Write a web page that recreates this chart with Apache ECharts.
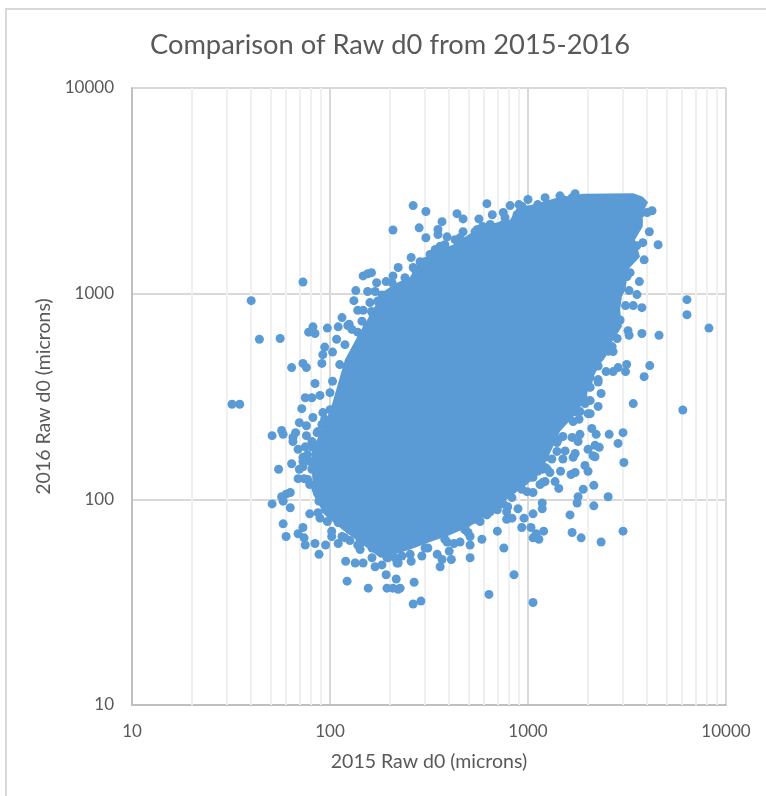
<!DOCTYPE html>
<html>
<head>
<meta charset="utf-8">
<title>Comparison of Raw d0 from 2015-2016</title>
<script src="https://cdn.jsdelivr.net/npm/echarts@6/dist/echarts.min.js"></script>
<style>
  html, body { margin: 0; padding: 0; background: #fff; }
  #chart { width: 766px; height: 796px; }
</style>
</head>
<body>
<div id="chart"></div>
<script>
const titleText = 'Comparison of Raw d0 from 2015-2016'
const xName = '2015 Raw d0 (microns)'
const yName = '2016 Raw d0 (microns)'
const minorGridX = [20, 30, 40, 50, 60, 70, 80, 90, 200, 300, 400, 500, 600, 700, 800, 900, 2000, 3000, 4000, 5000, 6000, 7000, 8000, 9000]

// the middle of the cloud is solid colour, single points can't be read there,
// so it's kept as an outline of the solid area (2015, 2016 values)
const coreOutline = [
  [81, 140], [81, 175], [94, 231], [103, 296], [112, 391], [119, 479], [142, 655], [163, 820],
  [185, 1022], [218, 1130], [254, 1210], [285, 1460], [360, 1640], [418, 1730], [527, 2000], [620, 2170],
  [812, 2290], [880, 2620], [1060, 2710], [1400, 2930], [1900, 3060], [3400, 3080], [3800, 2960], [4040, 2780],
  [3800, 2480], [3800, 2120], [3470, 1830], [3680, 1510], [3200, 1310], [3110, 1045], [2980, 968], [2920, 835],
  [2980, 690], [2600, 565], [2390, 479], [2100, 382], [1940, 305], [1730, 258], [1450, 214], [1320, 175],
  [1180, 140], [990, 118], [812, 103], [644, 86], [510, 74], [404, 67], [320, 62], [254, 57],
  [213, 54], [179, 52], [147, 60], [116, 71], [94, 84], [82, 106]
]

// points around the edge of the cloud, read one by one
const leftPoints = [
  [32, 290], [35, 290], [44, 600], [56, 605], [78, 650], [84, 640], [82, 690], [97, 680], [110, 690], [125, 710],
  [108, 600], [94, 550], [92, 505], [103, 520], [64, 437], [73, 458], [76, 437], [91, 458], [84, 366], [103, 375],
  [100, 330], [75, 312], [81, 312], [89, 320], [72, 276], [92, 264], [82, 250], [70, 236], [76, 228], [91, 231],
  [57, 216], [58, 207], [51, 204], [67, 211], [65, 200], [65, 191], [76, 204], [86, 211], [69, 175], [75, 180],
  [81, 180], [73, 160], [79, 153], [64, 149], [55, 140], [70, 140], [73, 144], [69, 126], [74, 126], [79, 118],
  [87, 122], [63, 108], [60, 106], [57, 103], [51, 95], [58, 98], [63, 91], [88, 98], [79, 85], [87, 86],
  [89, 81], [97, 78], [58, 76], [73, 73], [69, 68], [74, 65], [60, 66], [75, 60], [84, 61], [95, 60],
  [88, 54], [73, 153], [82, 148], [87, 126], [89, 108], [95, 89], [108, 84], [110, 77],
  [100, 273], [94, 245], [87, 214], [81, 191], [77, 165], [81, 140], [77, 125], [85, 112], [91, 100], [100, 87],
  [115, 78], [126, 71], [142, 64], [163, 58], [190, 54], [112, 452]
]
const bottomPoints = [
  [102, 70], [102, 66], [110, 61], [115, 66], [126, 63], [138, 60], [142, 57], [120, 50], [134, 49], [147, 49],
  [163, 52], [169, 47], [183, 48], [192, 43], [122, 40], [156, 37], [194, 37], [208, 37], [216, 41], [221, 36.5],
  [263, 31], [288, 32], [266, 39.5], [226, 37], [635, 34.5], [850, 43], [1060, 31.5], [360, 47], [410, 51], [510, 52],
  [755, 58], [700, 70], [585, 64], [454, 62], [510, 60], [400, 56], [348, 54], [368, 51], [291, 53], [257, 50],
  [231, 53], [312, 58], [390, 62], [423, 61], [510, 66], [418, 73], [540, 80], [930, 73], [1035, 73], [955, 81],
  [780, 80], [830, 81], [1060, 85], [890, 90], [780, 87], [790, 92], [620, 84], [700, 89], [1200, 70], [1060, 65],
  [1135, 64], [1100, 68], [1180, 90], [1180, 96], [990, 109], [1060, 108], [221, 49], [194, 52], [498, 69], [480, 71],
  [119, 65], [159, 62], [196, 52], [174, 57], [218, 49], [130, 70], [145, 62],
  [930, 112], [830, 102], [750, 95], [644, 87], [573, 78], [480, 73], [380, 64], [302, 58], [254, 54], [213, 52]
]
const rightPoints = [
  [1630, 84], [1670, 69], [1855, 65], [2340, 62], [3020, 70], [2150, 93], [2540, 103], [1770, 96], [1790, 103], [1900, 112],
  [2150, 117], [1430, 113], [1190, 121], [1370, 122], [1650, 132], [1730, 135], [2010, 137], [1940, 146], [3050, 151], [1460, 137],
  [2180, 161], [1730, 167], [2010, 175], [2290, 179], [2850, 187], [2570, 207], [3020, 211], [2210, 207], [2100, 221], [1830, 207],
  [1790, 191], [1400, 171], [6050, 272], [3400, 292], [2060, 261], [2260, 283], [2060, 302], [2340, 327], [2060, 350], [2260, 382],
  [2480, 418], [2690, 418], [2850, 437], [3110, 418], [3150, 453], [3860, 395], [4120, 447], [2260, 445], [2690, 523], [2660, 553],
  [2360, 505], [3240, 628], [3760, 640], [4590, 628], [2820, 605], [3200, 660], [8200, 680], [6350, 935], [6350, 790], [3760, 855],
  [3400, 875], [3550, 990], [3240, 1035], [3650, 1145], [4540, 1730], [4100, 2000], [3860, 1460], [3800, 1770], [3540, 1710], [4230, 2530],
  [4000, 2480], [2540, 525], [2360, 530], [2260, 372], [2010, 370], [1940, 292], [2010, 261], [1830, 267], [1690, 239], [1810, 245],
  [1670, 200], [1500, 202], [1400, 189], [2180, 183], [2130, 163], [1690, 160], [1540, 172], [1500, 157], [1220, 160], [1250, 140],
  [1290, 135], [1220, 122], [1150, 118], [1060, 128], [1180, 140],
  [1220, 218], [1370, 223], [1540, 245], [1730, 267], [1900, 313], [2060, 391], [1260, 185], [1420, 195], [1085, 165], [1220, 143],
  [1320, 157], [1020, 128], [1120, 137], [2920, 745], [2660, 635], [2430, 565], [2310, 490], [2060, 418], [1940, 350], [1790, 313],
  [3110, 875], [3280, 1265], [3160, 1210], [3400, 1510], [3280, 1830], [3590, 2210], [3760, 2480]
]
const topPoints = [
  [263, 2680], [305, 2510], [282, 2090], [305, 1870], [368, 2240], [351, 2050], [438, 2450], [470, 2310], [565, 2310], [620, 2740],
  [660, 2420], [750, 2480], [812, 2680], [935, 2650], [1120, 2710], [1500, 2870], [1670, 2930], [208, 2040], [351, 1940], [257, 1500],
  [221, 1340], [263, 1340], [208, 1220], [162, 1265], [155, 1250], [147, 1220], [135, 1035], [155, 1025], [172, 1130], [192, 1145],
  [169, 1025], [132, 925], [159, 905], [174, 920], [138, 830], [147, 830], [165, 790], [115, 765], [123, 700], [138, 650],
  [154, 690], [360, 1700], [320, 1550], [395, 1510], [285, 1430], [390, 1890], [470, 2000], [590, 2120], [555, 2050], [750, 2170],
  [428, 1830], [880, 2420], [73, 1140], [40, 925],
  [119, 565], [129, 670], [145, 735], [162, 820], [183, 985], [206, 1130], [239, 1195], [269, 1310], [302, 1430], [340, 1640],
  [380, 1730], [454, 1870], [540, 2000], [644, 2170], [765, 2340], [900, 2710], [1000, 2870], [1220, 2930], [1450, 2990], [1730, 3060]
]

const fontName = 'Lato'
const textColor = '#595959'
const dotColor = '#5B9BD5'

const chart = echarts.init(document.getElementById('chart'))

const option = {
  animation: false,
  backgroundColor: '#fff',
  title: {
    text: titleText,
    left: 385,
    top: 27,
    textAlign: 'center',
    textStyle: { color: textColor, fontFamily: fontName, fontSize: 27.3, fontWeight: 'normal' }
  },
  graphic: [{
    type: 'rect',
    silent: true,
    shape: { x: 6, y: 9, width: 900, height: 900 },
    style: { fill: 'none', stroke: '#D9D9D9', lineWidth: 2 }
  }],
  grid: { left: 132, top: 88, width: 594, height: 617 },
  xAxis: {
    type: 'log',
    logBase: 10,
    min: 10,
    max: 10000,
    name: xName,
    nameLocation: 'middle',
    nameGap: 47,
    nameTextStyle: { color: textColor, fontFamily: fontName, fontSize: 19.5 },
    axisLine: { show: true, lineStyle: { color: '#BFBFBF', width: 2 } },
    axisTick: { show: false },
    axisLabel: { color: textColor, fontFamily: fontName, fontSize: 17, margin: 18, formatter: v => String(v) },
    splitLine: { show: true, lineStyle: { color: '#D9D9D9', width: 2 } }
  },
  yAxis: {
    type: 'log',
    logBase: 10,
    min: 10,
    max: 10000,
    name: yName,
    nameLocation: 'middle',
    nameGap: 73,
    nameTextStyle: { color: textColor, fontFamily: fontName, fontSize: 19.5 },
    axisLine: { show: true, lineStyle: { color: '#BFBFBF', width: 2 } },
    axisTick: { show: false },
    axisLabel: { color: textColor, fontFamily: fontName, fontSize: 17, margin: 18, formatter: v => String(v) },
    splitLine: { show: true, lineStyle: { color: '#D9D9D9', width: 2 } }
  },
  series: [
    {
      // minor log gridlines on x only
      type: 'scatter',
      z: 1,
      silent: true,
      symbolSize: 0,
      data: [],
      markLine: {
        z: 1,
        silent: true,
        symbol: 'none',
        label: { show: false },
        lineStyle: { color: '#F0F0F0', width: 2, type: 'solid' },
        data: minorGridX.map(v => ({ xAxis: v }))
      }
    },
    {
      type: 'custom',
      z: 3,
      silent: true,
      data: coreOutline,
      encode: { x: 0, y: 1 },
      renderItem (params, api) {
        if (params.dataIndex !== 0) {
          return null
        }
        return {
          type: 'polygon',
          shape: { points: coreOutline.map(p => api.coord(p)) },
          style: { fill: dotColor }
        }
      }
    },
    {
      type: 'scatter',
      z: 4,
      symbolSize: 9,
      itemStyle: { color: dotColor, opacity: 1 },
      data: [...leftPoints, ...bottomPoints, ...rightPoints, ...topPoints]
    }
  ]
}

chart.setOption(option)
</script>
</body>
</html>
